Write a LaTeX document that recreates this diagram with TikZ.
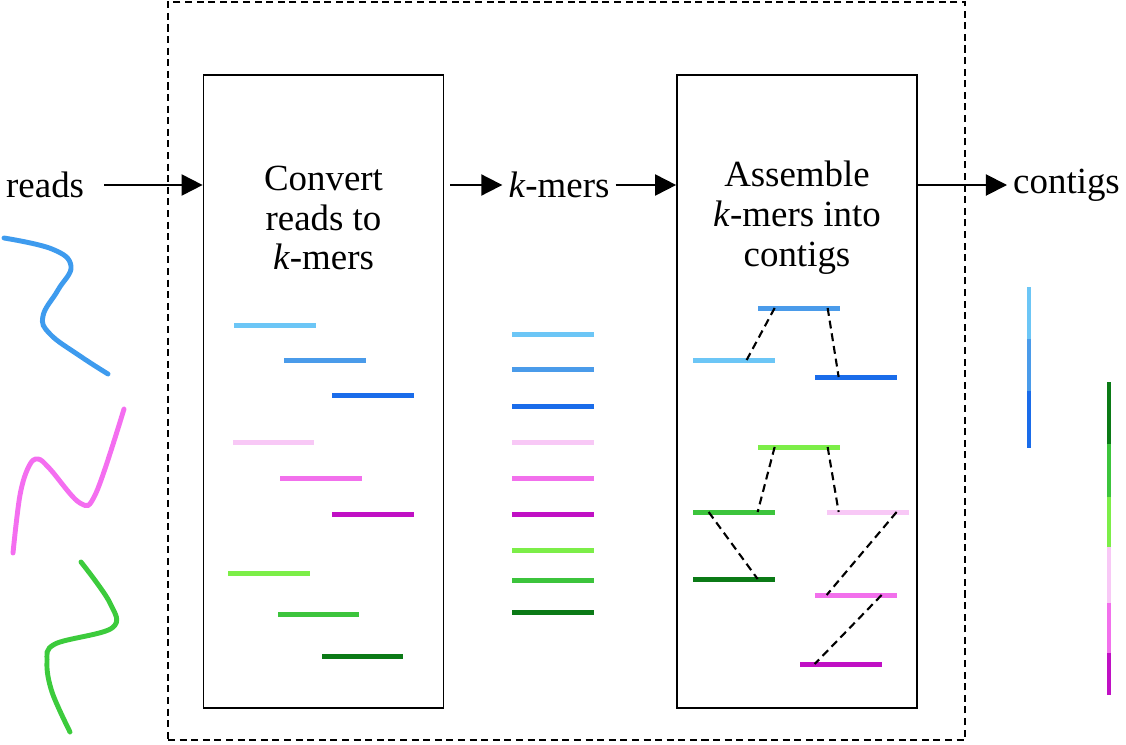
\documentclass[tikz,border=0pt]{standalone}
\usepackage{fontspec}
\setmainfont{Liberation Serif}
\usetikzlibrary{arrows.meta}

\definecolor{lblue}{HTML}{6CC6F6}
\definecolor{mblue}{HTML}{4A9BEA}
\definecolor{dblue}{HTML}{1A6CEA}
\definecolor{lpink}{HTML}{F8C8F6}
\definecolor{mpink}{HTML}{F270EC}
\definecolor{dpink}{HTML}{C010C4}
\definecolor{lgreen}{HTML}{7CEE48}
\definecolor{mgreen}{HTML}{3CC43C}
\definecolor{dgreen}{HTML}{0B7A16}
\definecolor{readblue}{HTML}{3E9BEE}
\definecolor{readpink}{HTML}{F46EF0}
\definecolor{readgreen}{HTML}{3CCB3C}

\begin{document}
\begin{tikzpicture}[
    x=0.02cm, y=-0.02cm,
    frame/.style={draw, dash pattern=on 4pt off 2.6pt, line width=0.9pt, minimum width=15.94cm, minimum height=14.76cm, inner sep=0},
    stage/.style={draw, line width=1pt, minimum width=4.8cm, minimum height=12.66cm, inner sep=0},
    label/.style={align=center, font=\fontsize{21}{22.7}\selectfont},
    flow/.style={draw, line width=1.1pt, -{Triangle[length=12pt, width=12pt]}},
    kmer/.style={fill=#1, minimum width=1.64cm, minimum height=0.1cm, inner sep=0},
    link/.style={draw, dash pattern=on 4.5pt off 2.8pt, line width=1.2pt},
    read/.style={draw=#1, line width=2.8pt, line cap=round},
    contig/.style={draw=#1, line width=2.8pt}
    ]
    \useasboundingbox (0,0) rectangle (1126,744);

    % Outer frame and the two stages
    \node[frame] (pipeline) at (566.5,371) {};
    \node[stage] (convert) at (323.5,391.5) {};
    \node[stage] (assemble) at (797,391.5) {};

    % Labels
    \node[label] (convtext) at (323.5,218) {Convert\\reads to\\\textit{k}-mers};
    \node[label] (asmtext) at (797,218) {Assemble\\\textit{k}-mers into\\contigs};
    \node[label, anchor=west] (reads) at (0,185) {reads};
    \node[label] (kmers) at (559,185) {\textit{k}-mers};
    \node[label, anchor=east] (contigs) at (1126,185) {contigs};

    % Flow arrows
    \draw[flow] (reads.east) ++(14,0) coordinate (rstart) (rstart) -- (convert.west |- reads);
    \draw[flow] (convert.east |- kmers) ++(6,0) coordinate (kstart) (kstart) -- (kmers.west);
    \draw[flow] (kmers.east) -- (assemble.west |- kmers);
    \draw[flow] (assemble.east |- contigs) -- (contigs.west);

    % Reads
    \draw[read=readblue] plot[smooth, tension=0.7] coordinates {(4,238) (52,249) (71,266) (58,290) (43,316) (50,334) (80,356) (108,374)};
    \draw[read=readpink] plot[smooth, tension=0.6] coordinates {(13,553) (20,495) (29,466) (38,459) (50,469) (80,503) (96,493) (124,409)};
    \draw[read=readgreen] plot[smooth, tension=0.6] coordinates {(81,562) (110,603) (112,628) (55,644) (47,662) (52,692) (70,732)};

    % k-mers cut from the reads
    \node[kmer=lblue] (ca) at (275,325) {};
    \node[kmer=mblue] (cb) at (325,360) {};
    \node[kmer=dblue] (cc) at (373,395) {};
    \node[kmer=lpink] (cd) at (273.5,442) {};
    \node[kmer=mpink] (ce) at (321,478) {};
    \node[kmer=dpink] (cf) at (373,514) {};
    \node[kmer=lgreen] (cg) at (269,573) {};
    \node[kmer=mgreen] (ch) at (318.5,614) {};
    \node[kmer=dgreen] (ci) at (362.5,656) {};

    % k-mer list
    \node[kmer=lblue] (ka) at (553,334) {};
    \node[kmer=mblue] (kb) at (553,369) {};
    \node[kmer=dblue] (kc) at (553,406) {};
    \node[kmer=lpink] (kd) at (553,442) {};
    \node[kmer=mpink] (ke) at (553,478) {};
    \node[kmer=dpink] (kf) at (553,514) {};
    \node[kmer=lgreen] (kg) at (553,550) {};
    \node[kmer=mgreen] (kh) at (553,580) {};
    \node[kmer=dgreen] (ki) at (553,612) {};

    % Assembly graph
    \node[kmer=mblue] (amb) at (799,308) {};
    \node[kmer=lblue] (alb) at (734,360) {};
    \node[kmer=dblue] (adb) at (855.5,377) {};
    \node[kmer=lgreen] (alg) at (799,447) {};
    \node[kmer=mgreen] (amg) at (734,512) {};
    \node[kmer=lpink] (alp) at (868,512) {};
    \node[kmer=dgreen] (adg) at (734,579) {};
    \node[kmer=mpink] (amp) at (855.5,595) {};
    \node[kmer=dpink] (adp) at (840.5,664) {};

    \draw[link] ([xshift=0.34cm]amb.west) -- ([xshift=1.08cm]alb.west);
    \draw[link] ([xshift=1.4cm]amb.west) -- ([xshift=0.49cm]adb.west);
    \draw[link] ([xshift=0.34cm]alg.west) -- ([xshift=1.3cm]amg.west);
    \draw[link] ([xshift=1.4cm]alg.west) -- ([xshift=0.24cm]alp.west);
    \draw[link] ([xshift=0.32cm]amg.west) -- ([xshift=1.3cm]adg.west);
    \draw[link] ([xshift=1.4cm]alp.west) -- ([xshift=0.25cm]amp.west);
    \draw[link] ([xshift=1.35cm]amp.west) -- ([xshift=0.31cm]adp.west);

    % Contigs
    \draw[contig=lblue] (1029,287) -- (1029,339);
    \draw[contig=mblue] (1029,339) -- (1029,391);
    \draw[contig=dblue] (1029,391) -- (1029,448);
    \draw[contig=dgreen] (1109,382) -- (1109,444);
    \draw[contig=mgreen] (1109,444) -- (1109,497);
    \draw[contig=lgreen] (1109,497) -- (1109,547);
    \draw[contig=lpink] (1109,547) -- (1109,603);
    \draw[contig=mpink] (1109,603) -- (1109,653);
    \draw[contig=dpink] (1109,653) -- (1109,695);

\end{tikzpicture}
\end{document}
